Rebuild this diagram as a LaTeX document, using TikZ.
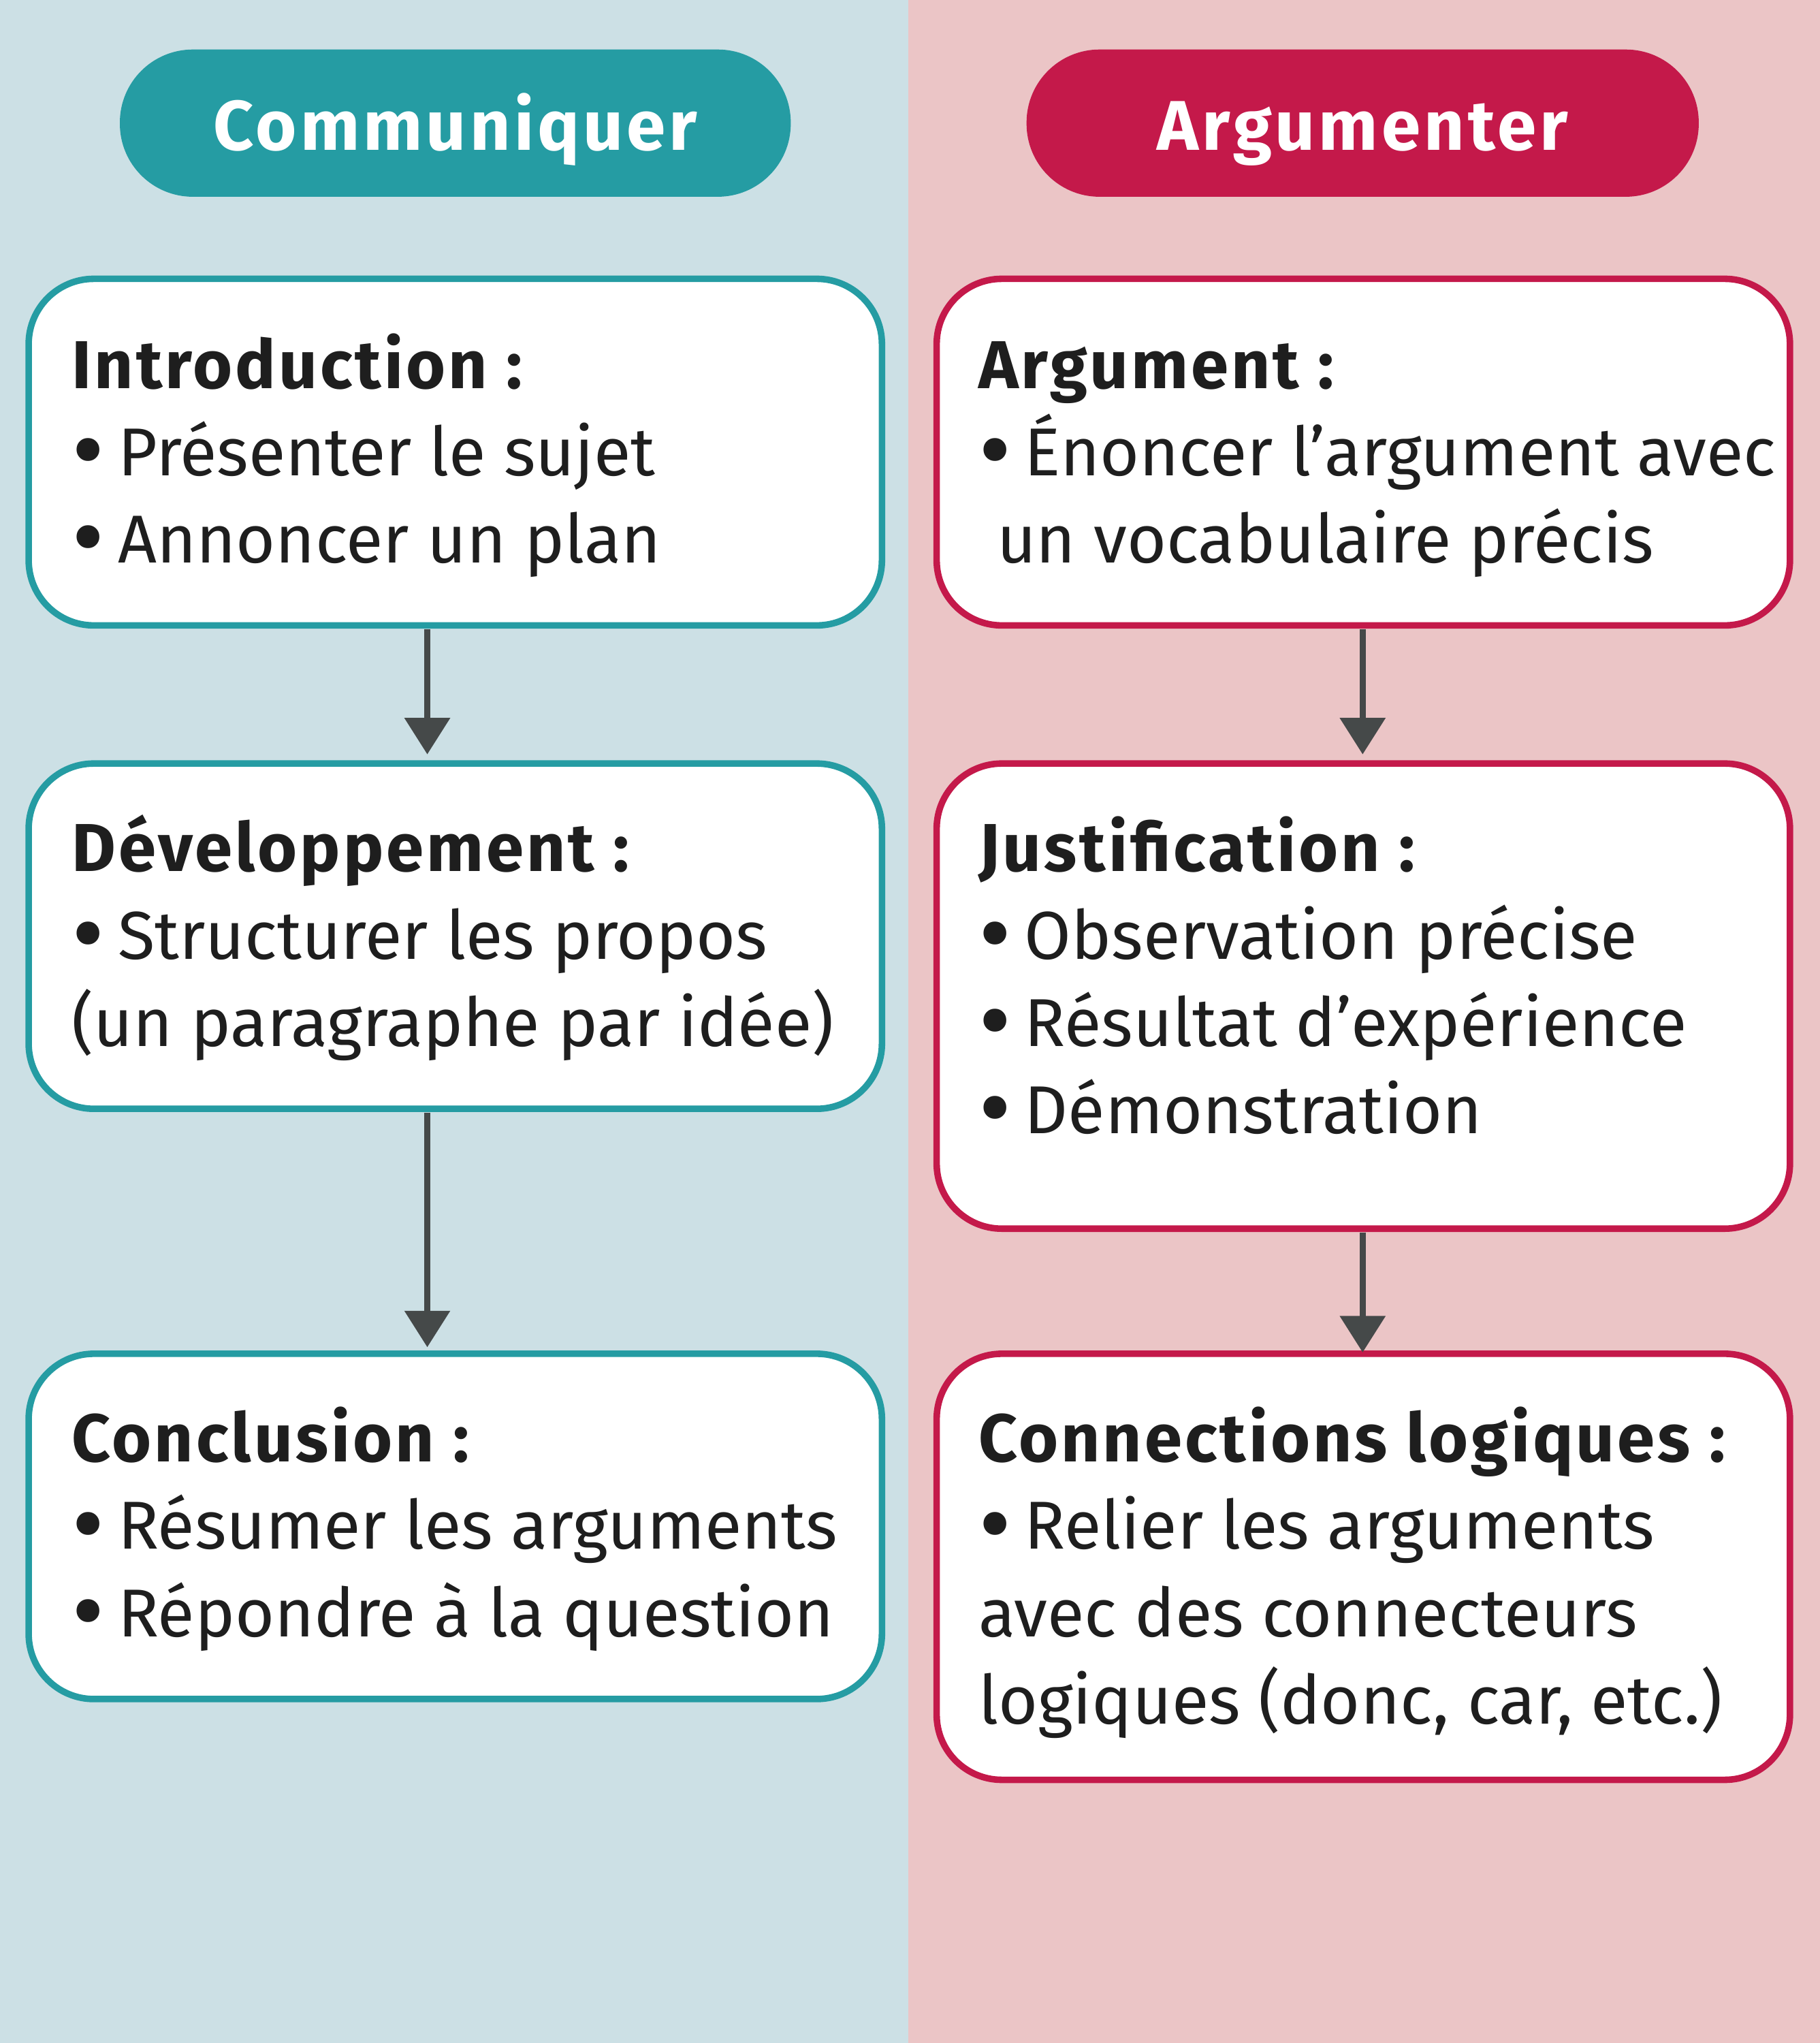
\documentclass[tikz,border=0pt]{standalone}
\usepackage{fontspec}
\setmainfont{Fira Sans}
\usetikzlibrary{arrows.meta}
\definecolor{bgL}{HTML}{CCE0E5}
\definecolor{bgR}{HTML}{EBC5C6}
\definecolor{teal}{HTML}{259CA3}
\definecolor{crim}{HTML}{C4194A}
\definecolor{arr}{HTML}{454949}
\definecolor{txt}{HTML}{1E1E1E}
\newcommand{\bul}{\raisebox{-7pt}{\scalebox{1.5}{\textbullet}}\kern10pt}
\begin{document}
\begin{tikzpicture}[x=1pt,y=-1pt,
  boxL/.style={draw=teal,line width=5pt,fill=white,rounded corners=50pt},
  boxR/.style={draw=crim,line width=5pt,fill=white,rounded corners=50pt},
  ln/.style={anchor=base west,inner sep=0,font=\fontsize{52}{60}\selectfont,text=txt},
  hd/.style={anchor=base west,inner sep=0,font=\fontsize{52}{60}\selectfont\bfseries\addfontfeature{LetterSpace=4},text=txt},
  pill/.style={inner sep=0,font=\fontsize{54}{60}\selectfont\bfseries\addfontfeature{LetterSpace=5},text=white},
  conn/.style={draw=arr,line width=5pt,-{Triangle[width=34pt,length=28pt]}}]
\useasboundingbox (0,0) rectangle (1397,1568);
\fill[bgL] (0,0) rectangle (697,1568);
\fill[bgR] (697,0) rectangle (1397,1568);
\fill[teal,rounded corners=56pt] (92,38) rectangle (607,151);
\fill[crim,rounded corners=56pt] (788,38) rectangle (1304,151);
\node[pill,anchor=base] (pc) at (349.5,115) {Communiquer};
\node[pill,anchor=base] (pa) at (1046,115) {Argumenter};
% boxes
\path[boxL] (22,214) rectangle (677,480);
\path[boxL] (22,586) rectangle (677,851);
\path[boxL] (22,1039) rectangle (677,1304);
\path[boxR] (719,214) rectangle (1374,480);
\path[boxR] (719,586) rectangle (1374,943);
\path[boxR] (719,1039) rectangle (1374,1366);
\coordinate (a1s) at (328,483); \coordinate (a1e) at (328,579);
\coordinate (a2s) at (328,854); \coordinate (a2e) at (328,1034);
\coordinate (a3s) at (1046,483); \coordinate (a3e) at (1046,579);
\coordinate (a4s) at (1046,946); \coordinate (a4e) at (1046,1038);
\draw[conn] (a1s) -- (a1e);
\draw[conn] (a2s) -- (a2e);
\draw[conn] (a3s) -- (a3e);
\draw[conn] (a4s) -- (a4e);
% left texts
\node[hd] (l1) at (55,298) {Introduction :};
\node[ln] (l2) at (55,365) {\bul Présenter le sujet};
\node[ln] (l3) at (55,432) {\bul Annoncer un plan};
\node[hd] (l4) at (55,669) {Développement :};
\node[ln] (l5) at (55,736) {\bul Structurer les propos};
\node[ln] (l6) at (55,803) {(un paragraphe par idée)};
\node[hd] (l7) at (55,1122) {Conclusion :};
\node[ln] (l8) at (55,1189) {\bul Résumer les arguments};
\node[ln] (l9) at (55,1256) {\bul Répondre à la question};
% right texts
\node[hd] (r1) at (751,298) {Argument :};
\node[ln] (r2) at (751,365) {\bul Énoncer l’argument avec};
\node[ln] (r3) at (765,432) {un vocabulaire précis};
\node[hd] (r4) at (751,669) {Justification :};
\node[ln] (r5) at (751,736) {\bul Observation précise};
\node[ln] (r6) at (751,803) {\bul Résultat d’expérience};
\node[ln] (r7) at (751,870) {\bul Démonstration};
\node[hd] (r8) at (751,1122) {Connections logiques :};
\node[ln] (r9) at (751,1189) {\bul Relier les arguments};
\node[ln] (r10) at (751,1256) {avec des connecteurs};
\node[ln] (r11) at (751,1323) {logiques (donc, car, etc.)};
\end{tikzpicture}
\end{document}
